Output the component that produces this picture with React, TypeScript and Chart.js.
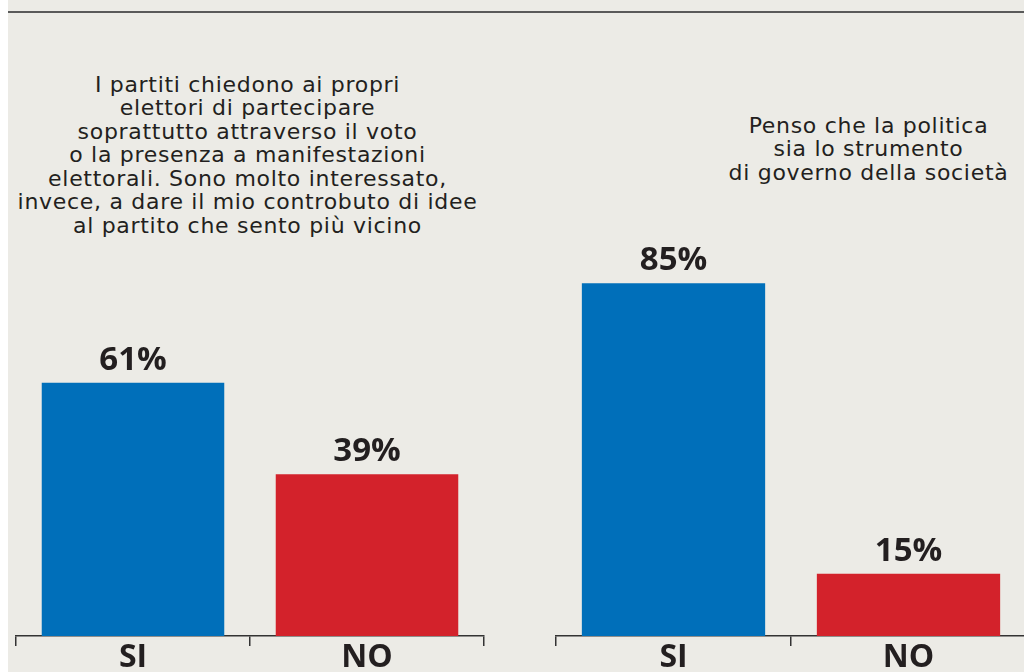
import React, { useEffect, useRef } from "react";
import { Chart, registerables } from "chart.js";

Chart.register(...registerables);

const categories = ["SI", "NO"];
const leftValues = [61, 39];
const rightValues = [85, 15];
const leftTitle = [
  "I partiti chiedono ai propri",
  "elettori di partecipare",
  "soprattutto attraverso il voto",
  "o la presenza a manifestazioni",
  "elettorali. Sono molto interessato,",
  "invece, a dare il mio controbuto di idee",
  "al partito che sento più vicino",
];
const rightTitle = [
  "Penso che la politica",
  "sia lo strumento",
  "di governo della società",
];
const barColors = ["#006fba", "#d3222b"];

const FONT = '"Open Sans", "Noto Sans", sans-serif';
const TITLE_FONT = '"DejaVu Sans", "Open Sans", sans-serif';
const TEXT = "#231f20";
const BG = "#ecebe6";

const valueLabels = {
  id: "valueLabels",
  afterDatasetsDraw(chart: any) {
    const ctx = chart.ctx;
    const meta = chart.getDatasetMeta(0);
    const data = chart.data.datasets[0].data;
    ctx.save();
    ctx.font = `bold 33px ${FONT}`;
    ctx.fillStyle = TEXT;
    ctx.textAlign = "center";
    ctx.textBaseline = "alphabetic";
    meta.data.forEach((bar: any, i: number) => {
      ctx.fillText(`${data[i]}%`, bar.x, bar.y - 13);
    });
    ctx.restore();
  },
};

function Panel(props: {
  values: number[];
  left: number;
  width: number;
  padLeft: number;
  padRight: number;
}) {
  const ref = useRef<HTMLCanvasElement>(null);
  useEffect(() => {
    if (!ref.current) return;
    const chart = new Chart(ref.current, {
      type: "bar",
      data: {
        labels: categories,
        datasets: [
          {
            data: props.values,
            backgroundColor: barColors,
            borderWidth: 0,
            barPercentage: 0.78,
            categoryPercentage: 1,
          },
        ],
      },
      options: {
        responsive: false,
        animation: false,
        devicePixelRatio: 1,
        layout: {
          padding: { left: props.padLeft, right: props.padRight, top: 221, bottom: 2 },
        },
        plugins: {
          legend: { display: false },
          tooltip: { enabled: false },
          title: { display: false },
        },
        scales: {
          y: { display: false, min: 0, max: 100 },
          x: {
            offset: true,
            grid: {
              display: true,
              offset: true,
              drawOnChartArea: false,
              drawTicks: true,
              tickLength: 10,
              color: "#333333",
              lineWidth: 1.5,
            },
            border: { display: true, color: "#333333", width: 1.5 },
            ticks: {
              color: TEXT,
              padding: -4,
              font: { family: FONT, size: 32, weight: "bold", lineHeight: 1 },
            },
          },
        },
      },
      plugins: [valueLabels],
    });
    return () => chart.destroy();
  }, []);
  return (
    <canvas
      ref={ref}
      width={props.width}
      height={672}
      style={{ position: "absolute", left: props.left, top: 0, width: props.width, height: 672 }}
    />
  );
}

export default function App() {
  const titleStyle: React.CSSProperties = {
    position: "absolute",
    fontFamily: TITLE_FONT,
    fontSize: 22,
    letterSpacing: "0.7px",
    lineHeight: "23.5px",
    color: TEXT,
    textAlign: "center",
    whiteSpace: "nowrap",
  };
  return (
    <div
      style={{
        position: "fixed",
        left: 0,
        top: 0,
        width: 1024,
        height: 672,
        overflow: "hidden",
        background: "#ffffff",
      }}
    >
      <div
        style={{
          position: "absolute",
          left: 8,
          top: 0,
          width: 1016,
          height: 672,
          background: BG,
          overflow: "hidden",
        }}
      >
        <div
          style={{
            position: "absolute",
            left: 0,
            top: 11,
            width: 1016,
            height: 2,
            background: "#5a5a5a",
          }}
        />
        <div style={{ ...titleStyle, left: 247.5 - 8 - 250, width: 500, top: 72.5 }}>
          {leftTitle.map((l, i) => (
            <div key={i}>{l}</div>
          ))}
        </div>
        <div style={{ ...titleStyle, left: 868.5 - 8 - 200, width: 400, top: 113.5 }}>
          {rightTitle.map((l, i) => (
            <div key={i}>{l}</div>
          ))}
        </div>
        <Panel values={leftValues} left={0} width={496} padLeft={8} padRight={20} />
        <Panel values={rightValues} left={532} width={500} padLeft={16} padRight={14} />
      </div>
    </div>
  );
}
